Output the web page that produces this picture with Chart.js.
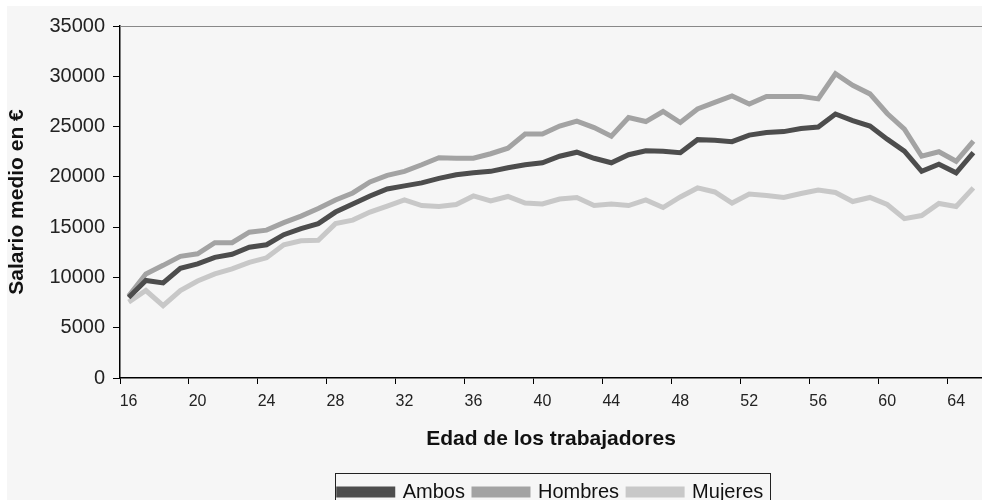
<!DOCTYPE html>
<html>
<head>
<meta charset="utf-8">
<script src="https://cdn.jsdelivr.net/npm/chart.js@4.4.1/dist/chart.umd.min.js"></script>
<style>
  html, body { margin: 0; padding: 0; background: #fff; overflow: hidden; }
  #wrap { width: 982px; height: 500px; overflow: hidden; }
</style>
</head>
<body>
<div id="wrap"><canvas id="salaryChart" width="982" height="512"></canvas></div>
<script>
// Salario medio por edad (16 a 65 años)
const ages = [];
for (let a = 16; a <= 65; a++) ages.push(String(a));

const ambos = [
  8000, 9700, 9450, 10900, 11350, 12000, 12300, 13000, 13250, 14250,
  14850, 15350, 16500, 17300, 18100, 18800, 19100, 19400, 19850, 20200,
  20400, 20550, 20900, 21200, 21400, 22050, 22450, 21850, 21400, 22200,
  22600, 22550, 22400, 23700, 23650, 23500, 24150, 24400, 24500, 24800,
  24950, 26250, 25600, 25050, 23750, 22550, 20550, 21250, 20400, 22400
];
const hombres = [
  8150, 10350, 11200, 12100, 12350, 13450, 13450, 14500, 14700, 15450,
  16100, 16850, 17700, 18400, 19500, 20150, 20550, 21200, 21900, 21850,
  21850, 22300, 22850, 24250, 24250, 25050, 25550, 24900, 24050, 25900,
  25500, 26500, 25400, 26750, 27400, 28050, 27250, 28000, 28000, 28000,
  27750, 30250, 29100, 28250, 26300, 24750, 22050, 22500, 21550, 23550
];
const mujeres = [
  7550, 8700, 7200, 8700, 9650, 10350, 10850, 11500, 11950, 13250,
  13650, 13700, 15350, 15700, 16500, 17100, 17700, 17150, 17050, 17250,
  18100, 17600, 18050, 17400, 17300, 17800, 17950, 17150, 17300, 17150,
  17700, 16950, 18000, 18900, 18500, 17400, 18300, 18150, 17950, 18350,
  18700, 18450, 17550, 17950, 17250, 15850, 16150, 17350, 17050, 18900
];
const yTicks = [0, 5000, 10000, 15000, 20000, 25000, 30000, 35000];

const FONT = "'Liberation Sans', Arial, sans-serif";
const every4 = i => i % 4 === 0;

// fondo gris, linea superior del area de trazado y marco de la leyenda
const frame = {
  id: 'frame',
  beforeDraw(chart) {
    const c = chart.ctx;
    c.save();
    c.fillStyle = '#f6f6f6';
    c.fillRect(7, 6, chart.width - 7, chart.height - 6);
    c.restore();
  },
  afterDraw(chart) {
    const c = chart.ctx, a = chart.chartArea;
    c.save();
    c.strokeStyle = '#888';
    c.lineWidth = 1;
    c.beginPath();
    c.moveTo(a.left, a.top + 0.5);
    c.lineTo(a.right, a.top + 0.5);
    c.stroke();
    const lg = chart.legend;
    const hb = lg.legendHitBoxes;
    if (hb && hb.length) {
      const first = hb[0], last = hb[hb.length - 1];
      const x0 = first.left - 4, x1 = last.left + last.width + 6;
      c.strokeStyle = '#222';
      c.strokeRect(Math.round(x0) + 0.5, lg.top + 0.5, Math.round(x1 - x0), 40);
    }
    c.restore();
  }
};

new Chart(document.getElementById('salaryChart'), {
  type: 'line',
  data: {
    labels: ages,
    datasets: [
      { label: 'Ambos', data: ambos, borderColor: '#4d4d4d', backgroundColor: '#4d4d4d', borderWidth: 5, pointRadius: 0, tension: 0 },
      { label: 'Hombres', data: hombres, borderColor: '#a3a3a3', backgroundColor: '#a3a3a3', borderWidth: 5, pointRadius: 0, tension: 0 },
      { label: 'Mujeres', data: mujeres, borderColor: '#c8c8c8', backgroundColor: '#c8c8c8', borderWidth: 5, pointRadius: 0, tension: 0 }
    ]
  },
  options: {
    responsive: false,
    animation: false,
    layout: { padding: { top: 26, left: 0, right: 0, bottom: 0 } },
    scales: {
      x: {
        offset: true,
        grid: {
          offset: true,
          drawOnChartArea: false,
          tickLength: 6,
          color: ctx => (every4(ctx.index) ? '#000' : 'rgba(0,0,0,0)'),
          tickColor: ctx => (every4(ctx.index) ? '#000' : 'rgba(0,0,0,0)')
        },
        border: { color: '#000', width: 1.5 },
        ticks: {
          autoSkip: false,
          maxRotation: 0,
          padding: 8,
          color: '#222',
          font: { family: FONT, size: 16 },
          callback: function (v, i) { return every4(i) ? this.getLabelForValue(v) : ''; }
        },
        title: {
          display: true,
          text: 'Edad de los trabajadores',
          color: '#111',
          font: { family: FONT, size: 21, weight: 'bold' },
          padding: { top: 4, bottom: 21 }
        },
        afterFit: s => { s.height = 95; }
      },
      y: {
        min: 0,
        max: 35000,
        afterBuildTicks: s => { s.ticks = yTicks.map(v => ({ value: v })); },
        grid: { drawOnChartArea: false, tickLength: 7, color: '#000' },
        border: { color: '#000', width: 1.5 },
        ticks: {
          padding: 8,
          color: '#222',
          font: { family: FONT, size: 20 },
          callback: v => String(v)
        },
        title: {
          display: true,
          text: 'Salario medio en €',
          color: '#111',
          font: { family: FONT, size: 21, weight: 'bold' },
          padding: { top: 5, bottom: 0 }
        },
        afterFit: s => { s.width = 120; }
      }
    },
    plugins: {
      legend: {
        position: 'bottom',
        fullSize: false,
        labels: {
          boxWidth: 54,
          boxHeight: 6,
          padding: 9,
          color: '#111',
          font: { family: FONT, size: 20 }
        }
      },
      tooltip: { enabled: false }
    }
  },
  plugins: [frame]
});
</script>
</body>
</html>
